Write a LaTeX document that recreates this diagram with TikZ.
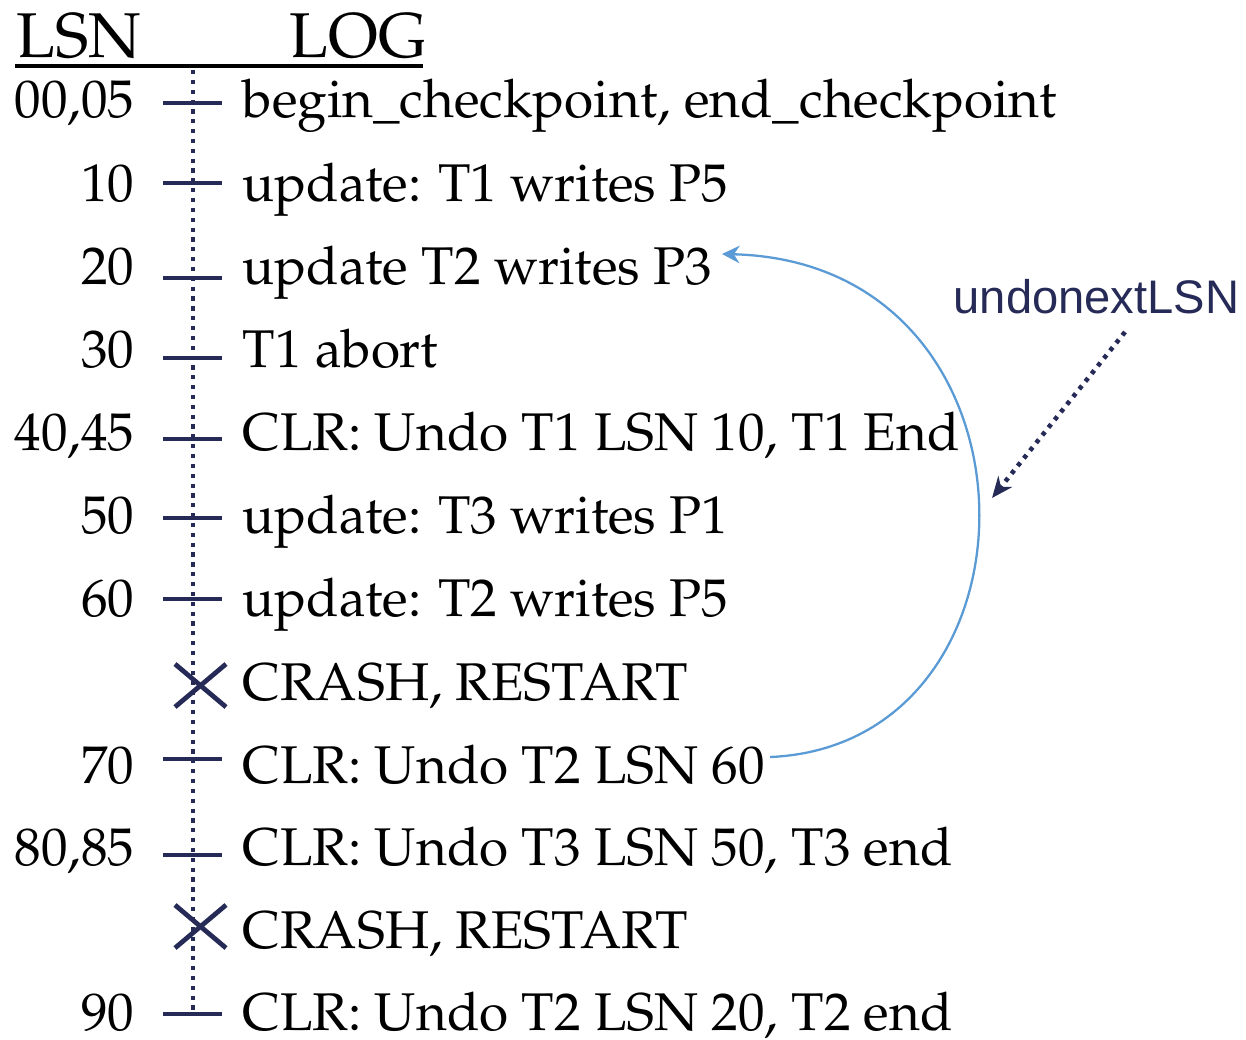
\documentclass[tikz,border=0pt]{standalone}
\usepackage{fontspec}
\newfontfamily\sanslab{Liberation Sans}
\newcommand\palfont{\fontencoding{T1}\fontfamily{ppl}\selectfont}
\usetikzlibrary{arrows.meta}
\definecolor{navy}{RGB}{38,42,86}
\definecolor{curveblue}{RGB}{91,155,213}
\begin{document}
\begin{tikzpicture}[x=0.01cm,y=-0.01cm,
  rowtext/.style={anchor=base west,inner sep=0pt,text depth=0pt,font=\palfont\fontsize{15.1}{18}\selectfont},
  lsntext/.style={anchor=base east,inner sep=0pt,text depth=0pt,font=\palfont\fontsize{15.1}{18}\selectfont},
  headtext/.style={anchor=base west,inner sep=0pt,font=\palfont\fontsize{18}{22}\selectfont},
  tick/.style={draw=navy,line width=1.2pt},
  crossmark/.style={draw=navy,line width=1.35pt},
  axis/.style={draw=navy,line width=1.3pt,dash pattern=on 1.2pt off 1.6pt},
  undoarrow/.style={draw=curveblue,line width=0.65pt,-{Stealth[length=5pt,width=5pt]}},
  labelarrow/.style={draw=navy,line width=1.3pt,dash pattern=on 1.2pt off 1.6pt,-{Stealth[length=6pt,width=5pt]}}]
\useasboundingbox (0,0) rectangle (1246,1039);
% header
\node[headtext] (hlsn) at (16,57) {LSN};
\node[headtext] (hlog) at (289,57) {LOG};
\coordinate (ulA) at (15,66);
\coordinate (ulB) at (423,66);
\draw[line width=1.0pt] (ulA) -- (ulB);
% axis
\coordinate (axtop) at (193,70);
\coordinate (axbot) at (193,1014);
\draw[axis] (axtop) -- (axbot);
% rows
\foreach \nm/\lsn/\ty/\by/\txt in {
  r1/{00,05}/103/117/{begin\_checkpoint, end\_checkpoint},
  r2/10/183/201/{update: T1 writes P5},
  r3/20/278/284/{update T2 writes P3},
  r4/30/358/367/{T1 abort},
  r5/{40,45}/439/450/{CLR: Undo T1 LSN 10, T1 End},
  r6/50/518/533/{update: T3 writes P1},
  r7/60/599/616/{update: T2 writes P5},
  r9/70/759/783/{CLR: Undo T2 LSN 60},
  r10/{80,85}/855/865/{CLR: Undo T3 LSN 50, T3 end},
  r12/90/1014/1030/{CLR: Undo T2 LSN 20, T2 end}}{
  \node[lsntext] (\nm l) at (135,\by) {\lsn};
  \node[rowtext] (\nm) at (242,\by) {\txt};
  \coordinate (\nm ta) at (163,\ty);
  \coordinate (\nm tb) at (222,\ty);
  \draw[tick] (\nm ta) -- (\nm tb);
}
\node[rowtext] (r8) at (242,700) {CRASH, RESTART};
\node[rowtext] (r11) at (242,948) {CRASH, RESTART};
\foreach \nm/\cy in {x1/686,x2/927}{
  \coordinate (\nm a) at (175,\cy-22);
  \coordinate (\nm b) at (226,\cy+21);
  \coordinate (\nm c) at (175,\cy+21);
  \coordinate (\nm d) at (226,\cy-22);
  \draw[crossmark] (\nm a) -- (\nm b);
  \draw[crossmark] (\nm c) -- (\nm d);
}
% undo curve
\coordinate (cstart) at (770,757);
\coordinate (cend) at (722,254);
\draw[undoarrow] (cstart) .. controls (1055,745) and (1055,262) .. (cend);
% label
\node[anchor=base west,inner sep=0pt,text=navy,font=\sanslab\fontsize{13.4}{16}\selectfont] (ulab) at (953,313) {undonextLSN};
\coordinate (lstart) at (1125,332);
\coordinate (lend) at (992,498);
\draw[labelarrow] (lstart) -- (lend);
\end{tikzpicture}
\end{document}
